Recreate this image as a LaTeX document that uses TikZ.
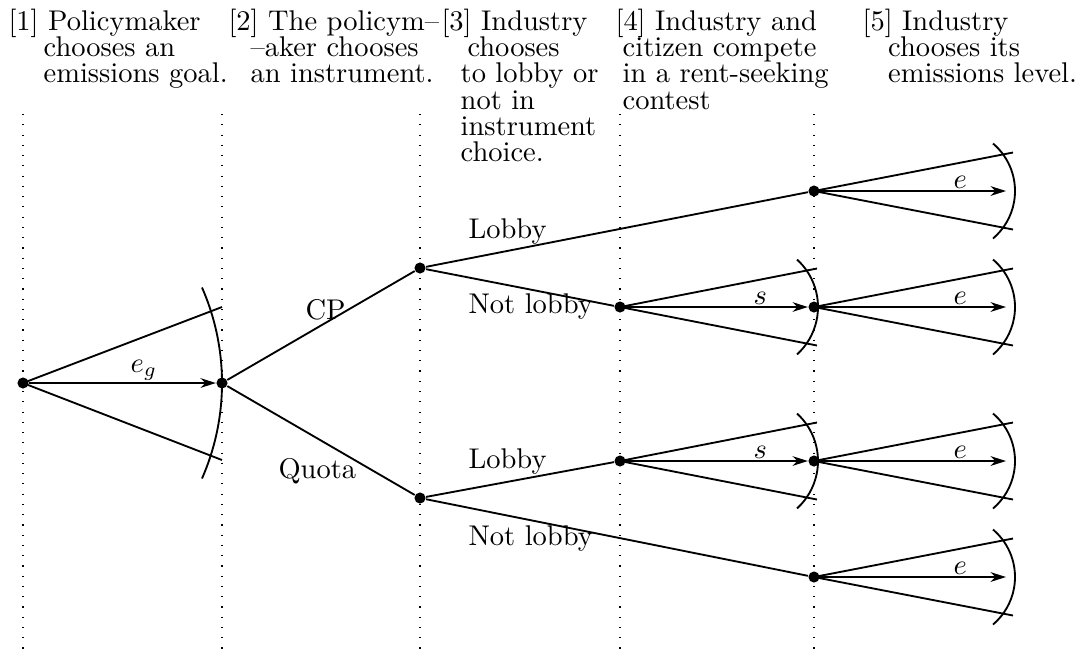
\documentclass[tikz,border=0pt]{standalone}
\usetikzlibrary{arrows.meta}
\lineskiplimit=-100pt
\begin{document}
\begin{tikzpicture}[x=0.3509pt,y=-0.3509pt,
  dot/.style={circle,fill=black,inner sep=0pt,minimum size=3.9pt},
  hdr/.style={anchor=north west,inner sep=0pt,align=left,font=\fontsize{10}{9.2}\selectfont},
  lbl/.style={anchor=base west,inner sep=0pt},
  br/.style={line width=0.65pt},
  arr/.style={line width=0.65pt,-{Stealth[length=5.4pt,width=3.4pt,inset=1.7pt]}},
  stage/.style={line width=0.4pt,dash pattern=on 0.4pt off 3.2pt}]
\useasboundingbox (0,0) rectangle (1086,654);

% stage lines
\foreach \x in {23,222,420,620,814}{\draw[stage] (\x,114) -- (\x,654);}

% headers
\node[hdr] (h1) at (8,8.6) {[1] Policymaker\\\hspace*{12.3pt}chooses an\\\hspace*{12.3pt}emissions goal.};
\node[hdr] (h2) at (228,8.6) {[2] The policym--\\\hspace*{7.7pt}--aker chooses\\\hspace*{7.7pt}an instrument.};
\node[hdr] (h3) at (441,8.6) {[3] Industry\\\hspace*{9.1pt}chooses\\\hspace*{6.7pt}to lobby or\\\hspace*{6.7pt}not in\\\hspace*{6.7pt}instrument\\\hspace*{6.7pt}choice.};
\node[hdr] (h4) at (615,8.6) {[4] Industry and\\\hspace*{2.5pt}citizen compete\\\hspace*{2.5pt}in a rent-seeking\\\hspace*{2.5pt}contest};
\node[hdr] (h5) at (862,8.6) {[5] Industry\\\hspace*{9pt}chooses its\\\hspace*{9pt}emissions level.};

% decision nodes
\node[dot] (r) at (23,383) {};
\node[dot] (a) at (222,383) {};
\node[dot] (cp) at (420,268) {};
\node[dot] (q) at (420,498) {};
\node[dot] (cpL) at (814,191) {};
\node[dot] (cpN) at (620,307) {};
\node[dot] (cpNs) at (814,307) {};
\node[dot] (qL) at (620,461) {};
\node[dot] (qLs) at (814,461) {};
\node[dot] (qN) at (814,577) {};

% branches
\draw[br] (a) -- (cp);
\draw[br] (a) -- (q);
\draw[br] (cp) -- (cpL);
\draw[br] (cp) -- (cpN);
\draw[br] (q) -- (qL);
\draw[br] (q) -- (qN);

% branch labels
\node[lbl] (lCP) at (305,319) {CP};
\node[lbl] (lQ) at (278,478) {Quota};
\node[lbl] (lL1) at (468,238) {Lobby};
\node[lbl] (lN1) at (468,313) {Not lobby};
\node[lbl] (lL2) at (468,468) {Lobby};
\node[lbl] (lN2) at (468,545) {Not lobby};

% root fan: emissions goal
\coordinate (r-u) at (222,307);
\coordinate (r-d) at (222,460);
\draw[br] (r.center) -- (r-u);
\draw[br] (r.center) -- (r-d);
\draw[arr] (r) -- (a);
\draw[br] (202,287.5) arc[start angle=-23.66, end angle=23.66, radius=238];
\node[lbl] (eg) at (130,372) {$e_g$};

% rent-seeking fans
\foreach \n/\m/\y in {cpN/cpNs/307, qL/qLs/461}{
  \coordinate (\n-u) at (817,\y-38.5);
  \coordinate (\n-d) at (817,\y+38.5);
  \draw[br] (\n.center) -- (\n-u);
  \draw[br] (\n.center) -- (\n-d);
  \draw[arr] (\n) -- (\m);
  \draw[br] (797,\y-47.5) arc[start angle=-47.7, end angle=47.7, radius=64.2];
  \node[lbl] (\n-s) at (753,\y-3) {$s$};
}

% emissions fans
\foreach \n/\y in {cpL/191, cpNs/307, qLs/461, qN/577}{
  \coordinate (\n-u) at (1013,\y-38.5);
  \coordinate (\n-d) at (1013,\y+38.5);
  \coordinate (\n-t) at (1006,\y);
  \draw[br] (\n.center) -- (\n-u);
  \draw[br] (\n.center) -- (\n-d);
  \draw[arr] (\n) -- (\n-t);
  \draw[br] (993,\y-47.5) arc[start angle=-49.7, end angle=49.7, radius=62.3];
  \node[lbl] (\n-e) at (953,\y-3) {$e$};
}
\end{tikzpicture}
\end{document}
